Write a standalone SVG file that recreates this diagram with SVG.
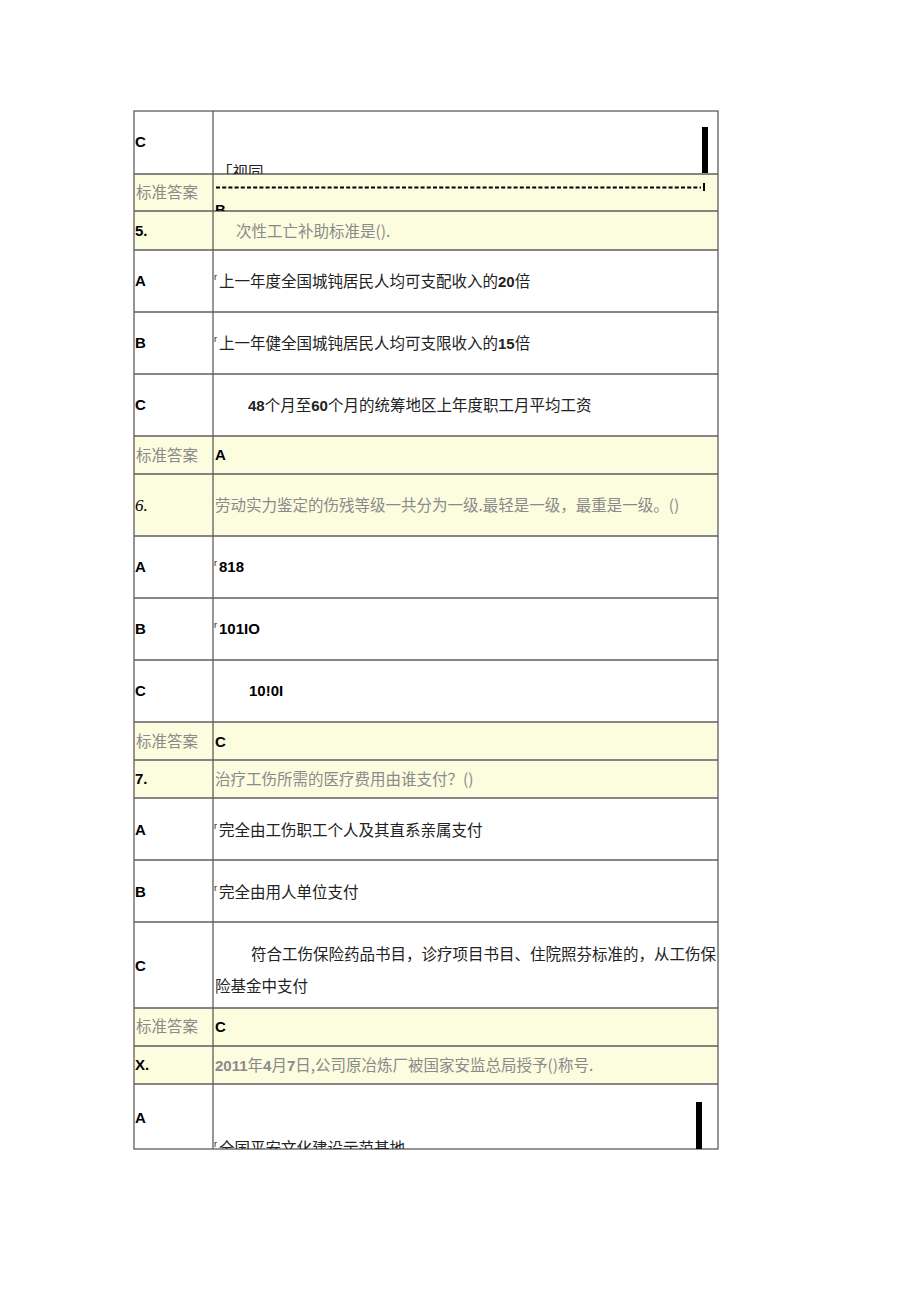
<svg xmlns="http://www.w3.org/2000/svg" width="920" height="1301" viewBox="0 0 920 1301">
<style>
.bg{fill:#ffffff}
.yl{fill:#fcfcdf}
.grid{stroke:#5e5e5e;stroke-width:1.3;fill:none}
.lab{font-family:"Liberation Sans",Arial,sans-serif;font-weight:bold;font-size:15px;fill:#000}
.cj{font-family:"Noto Sans CJK SC",sans-serif;font-size:15.5px;fill:#222}
.gr{font-family:"Noto Sans CJK SC",sans-serif;font-size:15.5px;fill:#8a8a8a}
.b{font-family:"Liberation Sans",Arial,sans-serif;font-weight:bold}
.r{font-family:"Liberation Sans",Arial,sans-serif;font-size:9px;fill:#222}
.it{font-family:"Liberation Serif","Times New Roman",serif;font-style:italic;font-size:17px;fill:#000}
</style>
<defs>
<clipPath id="c1"><rect x="214" y="112" width="503" height="62"/></clipPath>
<clipPath id="c2"><rect x="214" y="175" width="503" height="36"/></clipPath>
<clipPath id="c19"><rect x="214" y="1085" width="503" height="64"/></clipPath>
</defs>
<rect width="920" height="1301" class="bg"/>
<g id="backgrounds">
<rect class="yl" x="134" y="174" width="584" height="76"/>
<rect class="yl" x="134" y="436" width="584" height="100"/>
<rect class="yl" x="134" y="722" width="584" height="76"/>
<rect class="yl" x="134" y="1008" width="584" height="76"/>
</g>
<g id="grid" class="grid">
<rect x="134" y="111" width="584" height="1038"/>
<line x1="213" y1="111" x2="213" y2="1149"/>
<line x1="134" y1="174" x2="718" y2="174"/>
<line x1="134" y1="211" x2="718" y2="211"/>
<line x1="134" y1="250" x2="718" y2="250"/>
<line x1="134" y1="312" x2="718" y2="312"/>
<line x1="134" y1="374" x2="718" y2="374"/>
<line x1="134" y1="436" x2="718" y2="436"/>
<line x1="134" y1="474" x2="718" y2="474"/>
<line x1="134" y1="536" x2="718" y2="536"/>
<line x1="134" y1="598" x2="718" y2="598"/>
<line x1="134" y1="660" x2="718" y2="660"/>
<line x1="134" y1="722" x2="718" y2="722"/>
<line x1="134" y1="760" x2="718" y2="760"/>
<line x1="134" y1="798" x2="718" y2="798"/>
<line x1="134" y1="860" x2="718" y2="860"/>
<line x1="134" y1="922" x2="718" y2="922"/>
<line x1="134" y1="1008" x2="718" y2="1008"/>
<line x1="134" y1="1046" x2="718" y2="1046"/>
<line x1="134" y1="1084" x2="718" y2="1084"/>
</g>
<g id="row1">
<text class="lab" x="135" y="147">C</text>
<text class="cj" x="217" y="178" clip-path="url(#c1)">「视同</text>
<rect x="702" y="127" width="6" height="46" fill="#000"/>
</g>
<g id="row2">
<text class="gr" x="136" y="198">标准答案</text>
<line x1="216" y1="187.5" x2="701" y2="187.5" stroke="#000" stroke-width="2" stroke-dasharray="4,2.2"/>
<rect x="703" y="183" width="2" height="8" fill="#000"/>
<text class="lab" x="215" y="215" clip-path="url(#c2)">B</text>
</g>
<g id="row3">
<text class="lab" x="135" y="236">5.</text>
<text class="gr" x="236" y="237">次性工亡补助标准是().</text>
</g>
<g id="row4">
<text class="lab" x="135" y="286">A</text>
<text class="r" x="214" y="280">r</text>
<text class="cj" x="219" y="287">上一年度全国城钝居民人均可支配收入的<tspan class="b" font-size="15">20</tspan>倍</text>
</g>
<g id="row5">
<text class="lab" x="135" y="348">B</text>
<text class="r" x="214" y="342">r</text>
<text class="cj" x="219" y="349">上一年健全国城钝居民人均可支限收入的<tspan class="b" font-size="15">15</tspan>倍</text>
</g>
<g id="row6">
<text class="lab" x="135" y="410">C</text>
<text class="cj" x="248" y="411"><tspan class="b" font-size="15">48</tspan>个月至<tspan class="b" font-size="15">60</tspan>个月的统筹地区上年度职工月平均工资</text>
</g>
<g id="row7">
<text class="gr" x="136" y="461">标准答案</text>
<text class="lab" x="215" y="460">A</text>
</g>
<g id="row8">
<text class="it" x="135" y="511">6.</text>
<text class="gr" x="215" y="511">劳动实力鉴定的伤残等级一共分为一级.最轻是一级，最重是一级。()</text>
</g>
<g id="row9">
<text class="lab" x="135" y="572">A</text>
<text class="r" x="214" y="566">r</text>
<text class="lab" x="219" y="572">818</text>
</g>
<g id="row10">
<text class="lab" x="135" y="634">B</text>
<text class="r" x="214" y="628">r</text>
<text class="lab" x="219" y="634">101IO</text>
</g>
<g id="row11">
<text class="lab" x="135" y="696">C</text>
<text class="lab" x="249" y="696">10!0I</text>
</g>
<g id="row12">
<text class="gr" x="136" y="747">标准答案</text>
<text class="lab" x="215" y="747">C</text>
</g>
<g id="row13">
<text class="lab" x="135" y="784">7.</text>
<text class="gr" x="215" y="785">治疗工伤所需的医疗费用由谁支付？()</text>
</g>
<g id="row14">
<text class="lab" x="135" y="835">A</text>
<text class="r" x="214" y="829">r</text>
<text class="cj" x="219" y="836">完全由工伤职工个人及其直系亲属支付</text>
</g>
<g id="row15">
<text class="lab" x="135" y="897">B</text>
<text class="r" x="214" y="891">r</text>
<text class="cj" x="219" y="898">完全由用人单位支付</text>
</g>
<g id="row16">
<text class="lab" x="135" y="971">C</text>
<text class="cj" x="251" y="960">符合工伤保险药品书目，诊疗项目书目、住院照芬标准的，从工伤保</text>
<text class="cj" x="215" y="992">险基金中支付</text>
</g>
<g id="row17">
<text class="gr" x="136" y="1032">标准答案</text>
<text class="lab" x="215" y="1032">C</text>
</g>
<g id="row18">
<text class="lab" x="135" y="1070">X.</text>
<text class="gr" x="215" y="1071"><tspan class="b" font-size="15">2011</tspan>年<tspan class="b" font-size="15">4</tspan>月<tspan class="b" font-size="15">7</tspan>日,公司原冶炼厂被国家安监总局授予()称号.</text>
</g>
<g id="row19">
<text class="lab" x="135" y="1123">A</text>
<g clip-path="url(#c19)">
<text class="r" x="214" y="1147">r</text>
<text class="cj" x="219" y="1154">全国平安文化建设示范基地</text>
</g>
<rect x="696" y="1102" width="6" height="47" fill="#000"/>
</g>
</svg>
